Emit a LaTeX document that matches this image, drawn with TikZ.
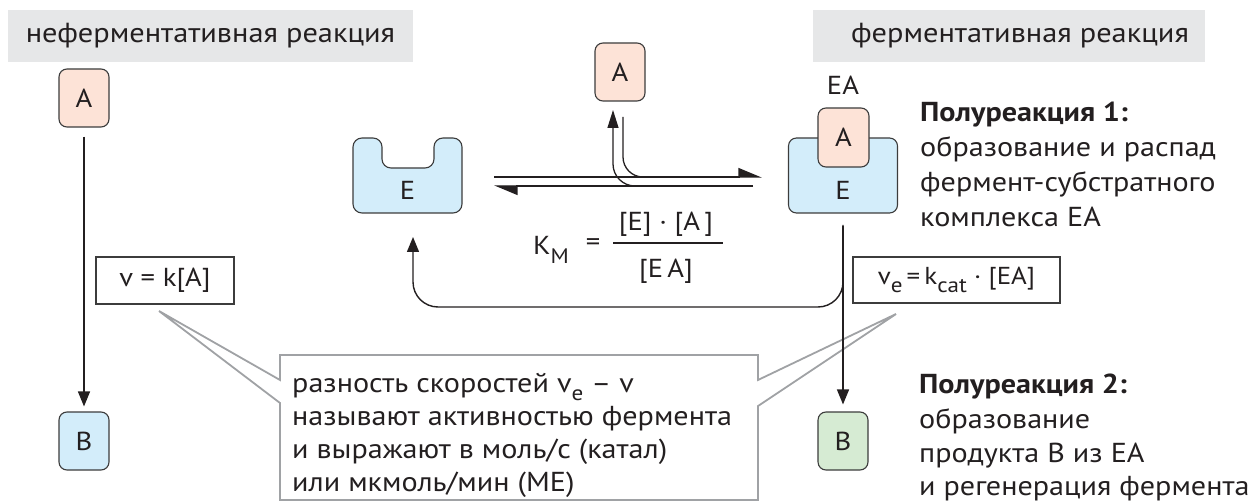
\documentclass[tikz,border=0pt]{standalone}
\usepackage{fontspec}
\setmainfont{PT Sans}[FakeStretch=1.1]
\usetikzlibrary{arrows.meta}
\definecolor{hdr}{HTML}{E6E7E8}
\definecolor{pinkA}{HTML}{FDE3D7}
\definecolor{blueE}{HTML}{D3EDFA}
\definecolor{greenB}{HTML}{D6EBD3}
\definecolor{ink}{HTML}{231F20}
\definecolor{bord}{HTML}{3C3C3C}
\definecolor{callgray}{HTML}{A0A2A5}
\newcommand{\lowsub}[1]{\raisebox{-0.32em}{\fontsize{21}{21}\selectfont #1}}
\newcommand{\bodyfont}{\fontsize{27.4}{33}\selectfont}
\newcommand{\hdrfont}{\fontsize{27.6}{33}\selectfont}
\begin{document}
\begin{tikzpicture}[x=1pt,y=-1pt,
  every node/.style={text=ink, font=\fontsize{26}{31}\selectfont},
  letterbox/.style={draw=bord, line width=1.1pt, rounded corners=8pt, minimum width=50pt, minimum height=58pt, inner sep=0pt},
  hdrbox/.style={fill=hdr, minimum height=52pt, inner sep=0pt, font=\hdrfont},
  formbox/.style={draw=bord, line width=1.2pt, minimum height=46pt, inner sep=0pt},
  arr/.style={line width=1.4pt, draw=ink, -{Triangle[length=15pt,width=12pt]}},
  eqline/.style={line width=1.3pt, draw=ink},
  harp/.style={eqline, -{Triangle[length=22pt,width=18pt,left]}},
  txtline/.style={anchor=base west, inner sep=0pt, font=\bodyfont},
  callout/.style={draw=callgray, line width=1.8pt, line join=miter}
]
\useasboundingbox (0,0) rectangle (1255,502);

% headers
\node[hdrbox, minimum width=405pt] (hL) at (210.5,36) {неферментативная реакция};
\node[hdrbox, minimum width=392pt] (hR) at (1009,36) {};
\node[inner sep=0pt, font=\hdrfont] (hRt) at (1020,36) {ферментативная реакция};

% callout (drawn first so arrows lie over it)
\draw[callout] (280,355) -- (758,355) -- (758,380) -- (896,314) -- (758,406) -- (758,500) -- (280,500) -- (280,403) -- (159,311) -- (280,380) -- cycle;
\node[txtline] (c1) at (292,392) {разность скоростей v\lowsub{e} – v};
\node[txtline] (c2) at (292,425) {называют активностью фермента};
\node[txtline] (c3) at (292,458) {и выражают в моль/с (катал)};
\node[txtline] (c4) at (292,491) {или мкмоль/мин (МЕ)};

% non-enzymatic
\node[letterbox, fill=pinkA] (A1) at (84,98) {A};
\node[letterbox, fill=blueE] (B1) at (84,441) {B};
\draw[arr, shorten <=9pt, shorten >=5pt] (A1) -- (B1);
\node[formbox, minimum width=138pt, minimum height=47pt] (vk) at (165,280.5) {v = k[A]};

% free enzyme E
\draw[fill=blueE, draw=bord, line width=1.1pt, rounded corners=9pt]
  (353,175) -- (353,138) -- (382,138) -- (382,168) -- (434,168) -- (434,138) -- (462,138) -- (462,213) -- (353,213) -- cycle;
\node (E1) at (407.5,190) {E};
\coordinate (E1in) at (413,237);

% substrate A (middle)
\node[letterbox, fill=pinkA] (A2) at (620,72) {A};

% equilibrium harpoons
\coordinate (fwdS) at (494,177);
\coordinate (fwdE) at (762,177);
\coordinate (bwdS) at (753,186);
\coordinate (bwdE) at (494,186);
\draw[harp] (fwdS) -- (fwdE);
\draw[harp] (bwdS) -- (bwdE);
\coordinate (relS) at (700,186);
\coordinate (relE) at (613,110);
\draw[eqline, rounded corners=22pt, -{Triangle[length=18pt,width=11pt]}] (relS) -| (relE);
\coordinate (bindS) at (623,117);
\coordinate (bindE) at (700,177);
\draw[eqline, rounded corners=20pt] (bindS) |- (bindE);

% EA complex
\node[letterbox, fill=blueE, minimum width=109pt, minimum height=75pt] (E2) at (843,175.5) {};
\node[letterbox, fill=pinkA, minimum width=51pt, minimum height=59pt] (A3) at (843.5,137.5) {A};
\node (E2t) at (843,190) {E};
\node (EAl) at (843,85) {EA};

% product B
\node[letterbox, fill=greenB] (B2) at (843,441) {B};
\draw[arr, shorten <=12pt, shorten >=7pt] (E2) -- (B2);

% regeneration arrow
\coordinate (EAout) at (843,225);
\coordinate (retM) at (600,307);
\draw[arr, rounded corners=25pt] (EAout) |- (retM) -| (E1in);

% K_M
\node (KM) at (551,250) {K\lowsub{M}};
\node (eqs) at (593,245) {=};
\node (num) at (666,224) {[E] · [A\,]};
\node (den) at (666,271) {[E\,A]};
\coordinate (fracL) at (613,243);
\coordinate (fracR) at (723,243);
\draw[line width=1.3pt, ink] (fracL) -- (fracR);

\node[formbox, minimum width=207pt, minimum height=46pt, font=\fontsize{24.5}{30}\selectfont] (ve) at (956.5,280) {v\lowsub{e}\,=\,k\lowsub{cat} · [EA]};

% right text
\node[txtline] (t1) at (920,122) {\bfseries Полуреакция 1:};
\node[txtline] (t2) at (920,157) {образование и распад};
\node[txtline] (t3) at (920,192) {фермент-субстратного};
\node[txtline] (t4) at (920,227) {комплекса EA};
\node[txtline] (t5) at (919,393) {\bfseries Полуреакция 2:};
\node[txtline] (t6) at (919,428) {образование};
\node[txtline] (t7) at (919,462) {продукта B из EA};
\node[txtline] (t8) at (919,495) {и регенерация фермента};
\end{tikzpicture}
\end{document}
